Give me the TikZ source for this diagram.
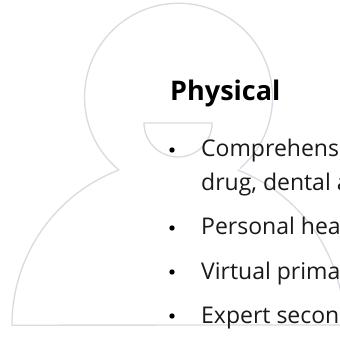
\documentclass[tikz,border=0pt]{standalone}
\usepackage{fontspec}
\setmainfont{Open Sans}
\definecolor{outlinegrey}{HTML}{DADAE2}
\tikzset{
  x=1pt,y=-1pt,
  outline/.style={draw=outlinegrey,line width=1.3pt,line join=miter},
  bodytext/.style={anchor=base west,inner sep=0pt,font=\fontsize{23pt}{26pt}\selectfont,text=black!90},
  bulletdot/.style={circle,fill=black,inner sep=0pt,minimum size=5.4pt},
}
\begin{document}
\begin{tikzpicture}
\useasboundingbox (0,0) rectangle (340,339);
\clip (0,0) rectangle (340,339);
\fill[white] (0,0) rectangle (340,339);
% head and body outline
\coordinate (leftjoin) at (119,170);
\coordinate (rightjoin) at (238,168);
\draw[outline] (leftjoin) arc[start angle=129.3,end angle=409.4,radius=94];
\draw[outline] (leftjoin) arc[start angle=249.2,end angle=180,radius=166] -- (344,325)
  arc[start angle=0,end angle=-69,radius=166];
\draw[outline] (144,123) -- (212,123) arc[start angle=0,end angle=180,radius=34] -- cycle;
% text
\node[anchor=base west,inner sep=0pt,font=\fontsize{27pt}{30pt}\selectfont\bfseries] (title) at (170,101) {Physical};
\node[bodytext] (t1) at (201,157) {Comprehens};
\node[bodytext] (t2) at (201,191) {drug, dental a};
\node[bodytext] (t3) at (201,235) {Personal hea};
\node[bodytext] (t4) at (201,279) {Virtual prima};
\node[bodytext] (t5) at (201,323) {Expert secon};
\node[bulletdot] (b1) at (172,150) {};
\node[bulletdot] (b3) at (172,228) {};
\node[bulletdot] (b4) at (172,272) {};
\node[bulletdot] (b5) at (172,316) {};
\end{tikzpicture}
\end{document}
